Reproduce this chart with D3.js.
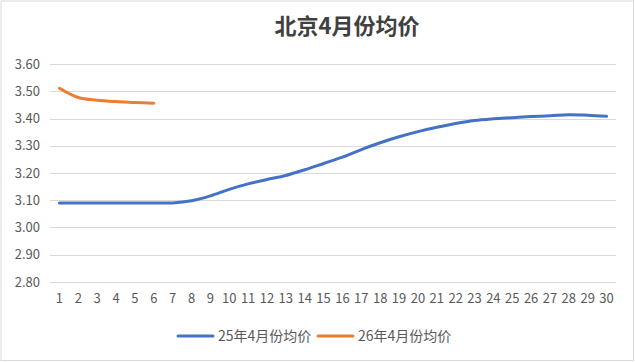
<!DOCTYPE html>
<html><head><meta charset="utf-8">
<script src="https://cdn.jsdelivr.net/npm/d3@7/dist/d3.min.js"></script>
<style>body{margin:0;background:#fff}svg{display:block}</style>
</head><body>
<script>
const title = "北京4月份均价";
const days = d3.range(1, 31).map(String);
const seriesNames = ["25年4月份均价", "26年4月份均价"];
const series25 = [3.09,3.09,3.09,3.09,3.09,3.09,3.09,3.098,3.116,3.14,3.16,3.176,3.191,3.212,3.235,3.258,3.286,3.311,3.333,3.352,3.368,3.382,3.393,3.399,3.403,3.407,3.41,3.414,3.412,3.408];
const series26 = [3.511,3.477,3.467,3.462,3.459,3.456];
const yTicks = [2.8,2.9,3.0,3.1,3.2,3.3,3.4,3.5,3.6];
const colors = ["#4472C4", "#ED7D31"];

const W = 635, H = 362;
const svg = d3.select("body").append("svg").attr("width", W).attr("height", H);
svg.append("rect").attr("x",1).attr("y",1).attr("width",W-2.5).attr("height",H-2.5)
  .attr("fill","#fff").attr("stroke","#d9d9d9").attr("stroke-width",1);

const mLeft = 50, mRight = 616, mTop = 64, mBottom = 282;
const x = d3.scaleBand().domain(days).range([mLeft, mRight]);
const y = d3.scaleLinear().domain([2.8, 3.6]).range([mBottom, mTop]);
const font = "'Noto Sans CJK SC', 'Noto Sans', sans-serif";

svg.append("g").selectAll("line").data(yTicks).join("line")
  .attr("x1", mLeft).attr("x2", mRight)
  .attr("y1", d => Math.round(y(d)) + 0.5).attr("y2", d => Math.round(y(d)) + 0.5)
  .attr("stroke", "#d9d9d9").attr("stroke-width", 1);

const yAxis = d3.axisLeft(y).tickValues(yTicks).tickFormat(d3.format(".2f")).tickSize(0).tickPadding(10);
const gy = svg.append("g").attr("transform", `translate(${mLeft},0)`).call(yAxis);
gy.select(".domain").remove();
gy.selectAll("text").attr("font-family", font).attr("font-size", 13).attr("fill", "#595959");

const xAxis = d3.axisBottom(x).tickSize(0).tickPadding(12);
const gx = svg.append("g").attr("transform", `translate(0,${mBottom})`).call(xAxis);
gx.select(".domain").remove();
gx.selectAll("text").attr("font-family", font).attr("font-size", 13).attr("fill", "#595959");

const cx = d => x(d) + x.bandwidth() / 2;
const line = d3.line().x((d, i) => cx(days[i])).y(d => y(d)).curve(d3.curveCatmullRom.alpha(0.5));
[series25, series26].forEach((s, k) => {
  svg.append("path").datum(s).attr("d", line).attr("fill", "none")
    .attr("stroke", colors[k]).attr("stroke-width", 3).attr("stroke-linecap", "round");
});

svg.append("text").attr("x", 347).attr("y", 34).attr("text-anchor", "middle")
  .attr("font-family", font).attr("font-size", 22).attr("font-weight", "bold").attr("fill", "#404040")
  .text(title);

const legX = [178, 318];
seriesNames.forEach((n, k) => {
  svg.append("line").attr("x1", legX[k]).attr("x2", legX[k] + 35).attr("y1", 336).attr("y2", 336)
    .attr("stroke", colors[k]).attr("stroke-width", 3).attr("stroke-linecap", "round");
  svg.append("text").attr("x", legX[k] + 40).attr("y", 341).attr("font-family", font)
    .attr("font-size", 14).attr("fill", "#595959").text(n);
});
</script>
</body></html>
